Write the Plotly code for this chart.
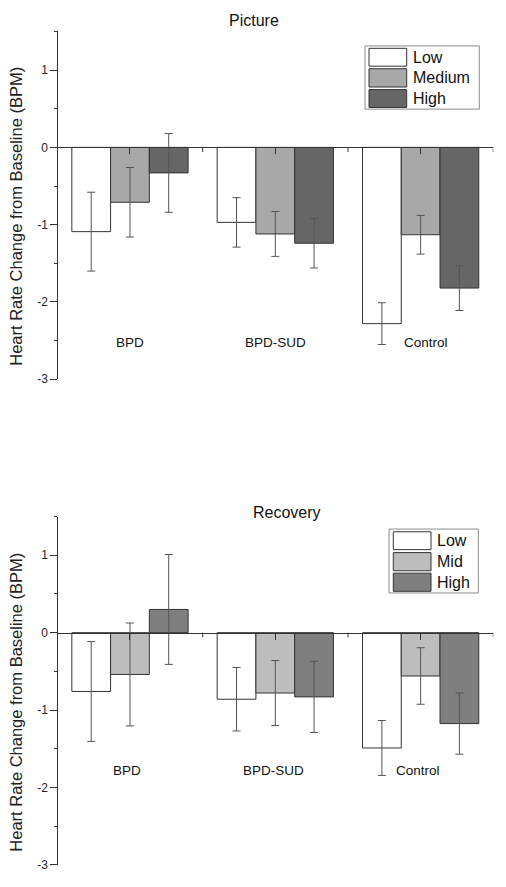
import plotly.graph_objects as go

# ---------------- data ----------------
groups = ["BPD", "BPD-SUD", "Control"]

picture_levels = ["Low", "Medium", "High"]
picture_low = [-1.09, -0.97, -2.28]
picture_med = [-0.71, -1.12, -1.13]
picture_high = [-0.33, -1.24, -1.82]
picture_low_err = [0.51, 0.32, 0.27]
picture_med_err = [0.45, 0.29, 0.25]
picture_high_err = [0.51, 0.32, 0.29]

recovery_levels = ["Low", "Mid", "High"]
recovery_low = [-0.76, -0.86, -1.49]
recovery_mid = [-0.54, -0.78, -0.56]
recovery_high = [0.30, -0.83, -1.175]
recovery_low_err = [0.645, 0.41, 0.355]
recovery_mid_err = [0.665, 0.42, 0.365]
recovery_high_err = [0.71, 0.46, 0.395]

y_ticks = [-3, -2, -1, 0, 1]
y_tick_labels = ["-3", "-2", "-1", "0", "1"]
y_title = "Heart Rate Change from Baseline (BPM)"

# ---------------- style ----------------
W, H = 506, 887
FONT = "Arial, Liberation Sans, sans-serif"
top_colors = ["#ffffff", "#a8a8a8", "#666666"]
bot_colors = ["#ffffff", "#bdbdbd", "#7f7f7f"]
YMIN, YMAX = -3, 1.5


def px(x):
    return x / W


def py(y):
    return 1 - y / H


x_dom = [px(57.3), px(493.3)]
top_dom = [py(382.3), py(31.7)]
bot_dom = [py(871.7), py(520.7)]


def zero_pos(dom):
    return dom[0] + (0 - YMIN) / (YMAX - YMIN) * (dom[1] - dom[0])


fig = go.Figure()


def add_bars(values, errs, names, colors, xa, ya):
    for v, e, n, c in zip(values, errs, names, colors):
        fig.add_trace(go.Bar(
            x=groups, y=v, name=n, xaxis=xa, yaxis=ya,
            marker=dict(color=c, line=dict(color="#333333", width=1)),
            error_y=dict(type="data", array=e, color="#555555",
                         thickness=1, width=4),
            showlegend=False,
        ))


add_bars([picture_low, picture_med, picture_high],
         [picture_low_err, picture_med_err, picture_high_err],
         picture_levels, top_colors, "x", "y")
add_bars([recovery_low, recovery_mid, recovery_high],
         [recovery_low_err, recovery_mid_err, recovery_high_err],
         recovery_levels, bot_colors, "x2", "y2")

xcommon = dict(
    type="category", range=[-0.5, 2.5], showline=True, linecolor="#333333",
    linewidth=1, ticks="outside", ticklen=6, tickcolor="#333333",
    showticklabels=False, showgrid=False, zeroline=False, anchor="free",
    fixedrange=True,
)
ycommon = dict(
    range=[YMIN, YMAX], tickvals=y_ticks, ticktext=y_tick_labels,
    showline=True, linecolor="#333333",
    linewidth=1, ticks="outside", ticklen=7, tickcolor="#333333",
    minor=dict(dtick=0.5, ticks="outside", ticklen=3, tickcolor="#333333"),
    showgrid=False, zeroline=False, tickfont=dict(size=12, color="#222222"),
    anchor="free", position=x_dom[0],
)

fig.update_layout(
    width=W, height=H, margin=dict(l=0, r=0, t=0, b=0),
    paper_bgcolor="white", plot_bgcolor="rgba(0,0,0,0)",
    font=dict(family=FONT, color="#111111"),
    barmode="group", bargap=0.2, bargroupgap=0,
    xaxis=dict(domain=x_dom, position=zero_pos(top_dom), **xcommon),
    xaxis2=dict(domain=x_dom, position=zero_pos(bot_dom), **xcommon),
    yaxis=dict(domain=top_dom, **ycommon),
    yaxis2=dict(domain=bot_dom, **ycommon),
    showlegend=False,
)

shapes = []
annotations = []

# boundary ticks between groups on the zero line
for xa, ya in (("x", "y"), ("x2", "y2")):
    for b in (0.5, 1.5, 2.5):
        shapes.append(dict(type="line", xref=xa, yref=ya, x0=b, x1=b,
                           y0=0, y1=-0.06, line=dict(color="#333333", width=1)))

# group labels
for g, xs in zip(groups, (0, 0, 5)):
    annotations.append(dict(x=g, y=-2.52, xref="x", yref="y", text=g,
                            showarrow=False, xshift=xs,
                            font=dict(size=13.5, color="#111111")))
for g, xs in zip(groups, (-3, -2, -3)):
    annotations.append(dict(x=g, y=-1.78, xref="x2", yref="y2", text=g,
                            showarrow=False, xshift=xs,
                            font=dict(size=13.5, color="#111111")))

# titles
annotations.append(dict(x=px(254), y=py(21), xref="paper", yref="paper",
                        text="Picture", showarrow=False, xanchor="center",
                        yanchor="middle", font=dict(size=16)))
annotations.append(dict(x=px(286.7), y=py(516.7), xref="paper", yref="paper",
                        text="Recovery", showarrow=False, xanchor="center",
                        yanchor="middle", font=dict(size=16)))

# y-axis titles
annotations.append(dict(x=px(16), y=py(218.5), xref="paper", yref="paper",
                        text=y_title, showarrow=False, textangle=-90,
                        xanchor="center", yanchor="middle",
                        font=dict(size=16.5, color="#222222")))
annotations.append(dict(x=px(16), y=py(708.3), xref="paper", yref="paper",
                        text=y_title, showarrow=False, textangle=-90,
                        xanchor="center", yanchor="middle",
                        font=dict(size=16.5, color="#222222")))


# custom legends
def legend(box, sw_x, rows, text_x, names, colors):
    shapes.append(dict(type="rect", xref="paper", yref="paper",
                       x0=px(box[0]), x1=px(box[1]), y0=py(box[3]), y1=py(box[2]),
                       line=dict(color="#8a8a8a", width=1), fillcolor="white"))
    for (r0, r1), n, c in zip(rows, names, colors):
        shapes.append(dict(type="rect", xref="paper", yref="paper",
                           x0=px(sw_x[0]), x1=px(sw_x[1]), y0=py(r1), y1=py(r0),
                           line=dict(color="#333333", width=1), fillcolor=c))
        annotations.append(dict(x=px(text_x), y=py((r0 + r1) / 2), xref="paper",
                                yref="paper", text=n, showarrow=False,
                                xanchor="left", yanchor="middle",
                                font=dict(size=16, color="#111111")))


legend((365, 479.3, 46.3, 110), (369, 406.7),
       [(48.7, 66.7), (69.3, 87.7), (90.3, 108.3)], 411,
       picture_levels, top_colors)
legend((389, 478.3, 533.3, 597.7), (393.3, 431),
       [(536, 554), (557, 575.3), (577.7, 596)], 435,
       recovery_levels, bot_colors)

fig.update_layout(shapes=shapes, annotations=annotations)

fig.write_html(
    "out.html",
    config={"displayModeBar": False},
    post_script="document.body.style.margin='0';"
                "document.documentElement.style.overflow='hidden';",
)
